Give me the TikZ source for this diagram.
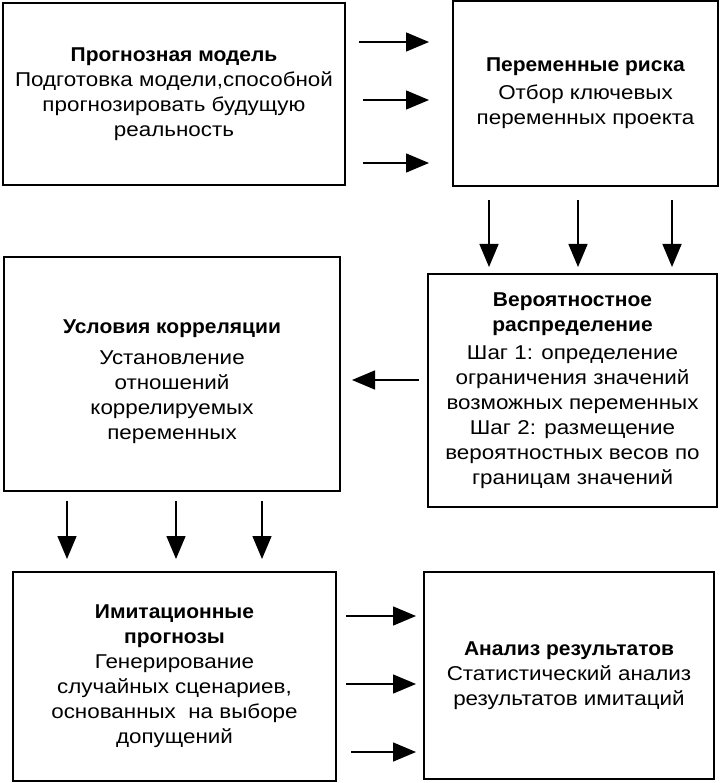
\documentclass[tikz,border=0pt]{standalone}
\usepackage{fontspec}
\setmainfont{Liberation Sans}[UprightFeatures={FakeStretch=1.12}, BoldFeatures={FakeStretch=1.05}]
\usetikzlibrary{arrows.meta}

\begin{document}
\begin{tikzpicture}[x=1pt,y=-1pt,
    box/.style={draw, line width=2pt, align=center, inner sep=0pt,
        font=\fontsize{20}{25}\selectfont},
    flow/.style={line width=1.5pt, -{Triangle[length=23pt,width=19pt]}}]
    \useasboundingbox (0,0) rectangle (720,783);

    \node[box, minimum width=342pt, minimum height=182pt] (model) at (174,94)
        {\textbf{Прогнозная модель}\\Подготовка модели,способной\\прогнозировать будущую\\реальность};
    \node[box, minimum width=265pt, minimum height=185pt] (risk) at (585.5,93.5)
        {\textbf{Переменные риска}\\[3pt]Отбор ключевых\\переменных проекта};
    \node[box, minimum width=289pt, minimum height=233pt] (distr) at (572.5,390.5)
        {\textbf{Вероятностное}\\\textbf{распределение}\\[3pt]Шаг 1: определение\\ограничения значений\\возможных переменных\\Шаг 2: размещение\\вероятностных весов по\\границам значений};
    \node[box, minimum width=336pt, minimum height=234pt] (corr) at (172,374)
        {\rule{0pt}{30pt}\textbf{Условия корреляции}\\[6pt]Установление\\отношений\\коррелируемых\\переменных};
    \node[box, minimum width=323pt, minimum height=209pt] (simul) at (174.5,676.5)
        {\textbf{Имитационные}\\\textbf{прогнозы}\\Генерирование\\случайных сценариев,\\основанных\ \ на выборе\\допущений};
    \node[box, minimum width=290pt, minimum height=207pt] (result) at (569,675.5)
        {\textbf{Анализ результатов}\\Статистический анализ\\результатов имитаций};

    % model -> risk
    \foreach \yy/\sa in {42/13,100/17,163/17}
        \draw[flow, shorten <=\sa pt, shorten >=23pt] (model.east |- 0,\yy) -- (risk.west |- 0,\yy);
    % risk -> distr
    \foreach \xx in {489,578,672}
        \draw[flow, shorten <=13pt, shorten >=6pt] (risk.south -| \xx,0) -- (distr.north -| \xx,0);
    % distr -> corr
    \draw[flow, shorten <=8pt, shorten >=11pt] (distr.west |- 0,380) -- (corr.east |- 0,380);
    % corr -> simul
    \foreach \xx in {67,176,262}
        \draw[flow, shorten <=9pt, shorten >=12pt] (corr.south -| \xx,0) -- (simul.north -| \xx,0);
    % simul -> result
    \foreach \yy/\sa in {616/9,684/9,752/14}
        \draw[flow, shorten <=\sa pt, shorten >=7pt] (simul.east |- 0,\yy) -- (result.west |- 0,\yy);
\end{tikzpicture}
\end{document}
